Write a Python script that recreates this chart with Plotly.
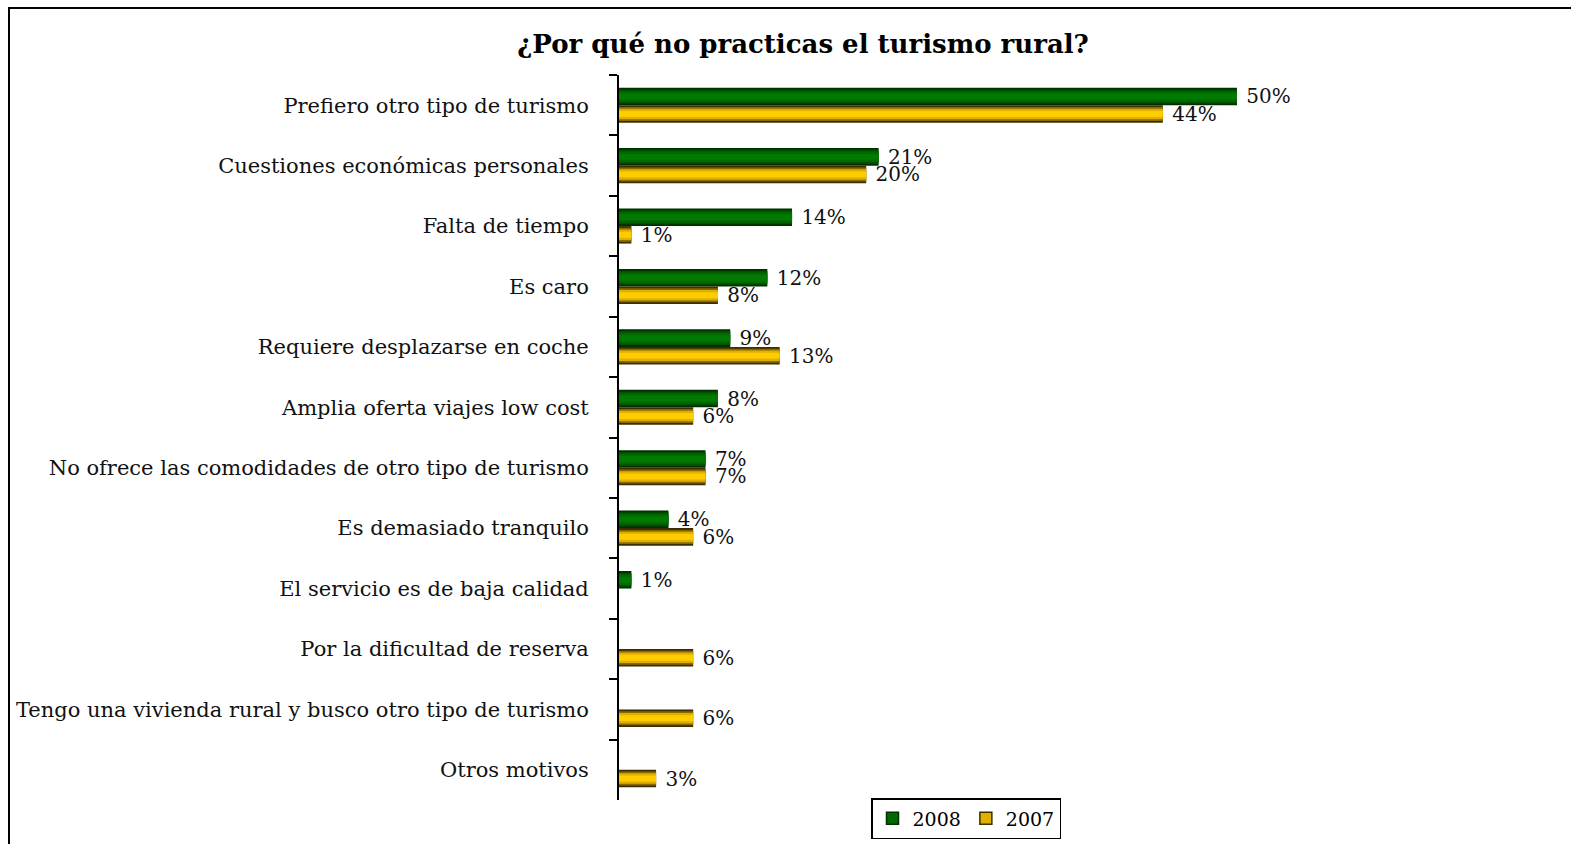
import plotly.graph_objects as go

categories = [
    "Prefiero otro tipo de turismo",
    "Cuestiones económicas personales",
    "Falta de tiempo",
    "Es caro",
    "Requiere desplazarse en coche",
    "Amplia oferta viajes low cost",
    "No ofrece las comodidades de otro tipo de turismo",
    "Es demasiado tranquilo",
    "El servicio es de baja calidad",
    "Por la dificultad de reserva",
    "Tengo una vivienda rural y busco otro tipo de turismo",
    "Otros motivos",
]
values_2008 = [50, 21, 14, 12, 9, 8, 7, 4, 1, None, None, None]
values_2007 = [44, 20, 1, 8, 13, 6, 7, 6, None, 6, 6, 3]

FONT = "DejaVu Serif"
BAR_W = 0.29

series = [
    ("2008", values_2008, -BAR_W / 2, ["#003000", "#005200", "#006a00", "#007a00"]),
    ("2007", values_2007, BAR_W / 2, ["#3d2e00", "#8a6a00", "#e0b000", "#ffcc00"]),
]
layer_scale = [1.0, 0.8, 0.6, 0.34]

fig = go.Figure()
for name, vals, center, colors in series:
    for i, (sc, col) in enumerate(zip(layer_scale, colors)):
        w = BAR_W * sc
        fig.add_trace(go.Bar(
            y=categories, x=vals, orientation="h", name=name,
            width=w, offset=center - w / 2,
            marker=dict(color=col, line=dict(width=0)),
            showlegend=False,
            legendgroup=name,
            text=[f"\u00a0{v}%" if v is not None else "" for v in vals] if i == 0 else None,
            textposition="outside" if i == 0 else "none",
            textfont=dict(family=FONT, size=20, color="#111"),
            constraintext="none",
            cliponaxis=False,
            hoverinfo="skip",
        ))
    fig.add_trace(go.Bar(
        y=[None], x=[None], orientation="h", name=name,
        marker=dict(color=colors[2], line=dict(color=colors[0], width=1.5)),
        legendgroup=name, showlegend=True,
    ))

fig.update_layout(
    width=1571, height=844,
    barmode="overlay",
    paper_bgcolor="white", plot_bgcolor="white",
    margin=dict(l=619, r=25, t=75, b=44, autoexpand=False),
    title=dict(text="<b>¿Por qué no practicas el turismo rural?</b>",
               x=803 / 1571, xref="container", xanchor="center",
               y=1 - 44 / 844, yref="container", yanchor="middle",
               font=dict(family=FONT, size=26, color="black")),
    font=dict(family=FONT, size=20, color="#111"),
    showlegend=True,
    legend=dict(orientation="h", x=(871 - 619) / 927, y=1 - (798 - 75) / 725,
                xanchor="left", yanchor="top",
                bordercolor="black", borderwidth=1.5, bgcolor="white",
                font=dict(family=FONT, size=19, color="black"),
                traceorder="normal", itemwidth=30),
    xaxis=dict(range=[0, 75], showgrid=False, zeroline=False, showline=False,
               showticklabels=False, ticks="", automargin=False),
    yaxis=dict(autorange="reversed", type="category", automargin=False,
               showline=True, linecolor="black", linewidth=2,
               ticks="outside", ticklen=8, tickwidth=1.5, tickcolor="black",
               tickson="boundaries", ticklabelstandoff=24,
               showgrid=False, tickfont=dict(family=FONT, size=21, color="#111")),
    shapes=[dict(type="rect", xref="paper", yref="paper",
                 x0=(9 - 619) / 927, x1=(1590 - 619) / 927,
                 y0=(800 - 860) / 725, y1=1 + (75 - 8) / 725,
                 line=dict(color="black", width=2), fillcolor="rgba(0,0,0,0)",
                 layer="below")],
)

fig.write_html("out.html", config={"displayModeBar": False},
               post_script="document.body.style.margin='0';")
